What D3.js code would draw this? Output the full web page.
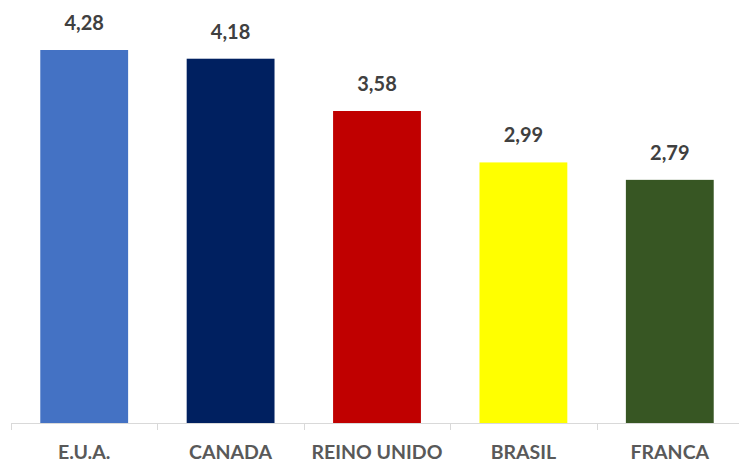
<!DOCTYPE html>
<html><head><meta charset="utf-8">
<script src="https://cdn.jsdelivr.net/npm/d3@7"></script>
<style>body{margin:0;background:#fff}svg{display:block}</style>
</head><body><svg id="c" width="739" height="463"></svg>
<script>
const categories = ["E.U.A.", "CANADA", "REINO UNIDO", "BRASIL", "FRANCA"];
const values = [4.28, 4.18, 3.58, 2.99, 2.79];
const colors = ["#4472c4", "#002060", "#c00000", "#ffff00", "#375623"];
const valueLabels = ["4,28", "4,18", "3,58", "2,99", "2,79"];

const svg = d3.select("#c");
const x0 = 11, x1 = 743, base = 423;
const x = d3.scaleBand().domain(categories).range([x0, x1]).paddingInner(0.4).paddingOuter(0.2);
const y = d3.scaleLinear().domain([0, 4.28]).range([base, 50]);
const font = "Lato, 'Open Sans', sans-serif";

svg.selectAll("rect.bar").data(categories).enter().append("rect")
  .attr("x", d => x(d)).attr("width", x.bandwidth())
  .attr("y", (d, i) => y(values[i])).attr("height", (d, i) => base - y(values[i]))
  .attr("fill", (d, i) => colors[i]);

svg.selectAll("text.val").data(categories).enter().append("text")
  .attr("x", d => x(d) + x.bandwidth() / 2).attr("y", (d, i) => y(values[i]) - 20)
  .attr("text-anchor", "middle").attr("font-family", font).attr("font-weight", "bold")
  .attr("font-size", 20).attr("fill", "#404040").text((d, i) => valueLabels[i]);

// axis
const g = svg.append("g");
g.append("line").attr("x1", x0).attr("x2", 739).attr("y1", base + 0.5).attr("y2", base + 0.5)
  .attr("stroke", "#d9d9d9").attr("stroke-width", 1);
const tickX = d3.range(categories.length + 1).map(i => x0 + i * (x1 - x0) / categories.length);
g.selectAll("line.t").data(tickX).enter().append("line")
  .attr("x1", d => Math.round(d) + 0.5).attr("x2", d => Math.round(d) + 0.5)
  .attr("y1", base).attr("y2", base + 7).attr("stroke", "#d9d9d9");

svg.selectAll("text.cat").data(categories).enter().append("text")
  .attr("x", d => x(d) + x.bandwidth() / 2).attr("y", 459)
  .attr("text-anchor", "middle").attr("font-family", font).attr("font-weight", "bold")
  .attr("font-size", 19.5).attr("fill", "#595959").text(d => d);
</script></body></html>
